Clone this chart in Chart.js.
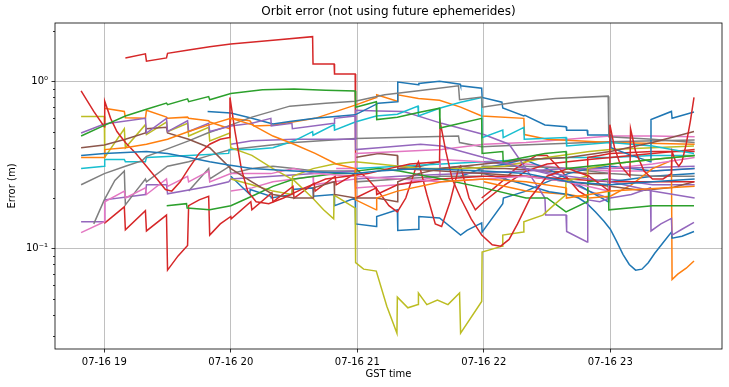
<!DOCTYPE html>
<html lang="en">
<head>
<meta charset="UTF-8">
<title>Orbit error</title>
<script src="https://cdn.jsdelivr.net/npm/chart.js@4"></script>
<style>
  body { margin: 0; background: #fff; }
  canvas { display: block; }
</style>
</head>
<body>
<canvas id="orbitChart" width="729" height="387"></canvas>
<script>
// time = minutes after 07-16 18:00 GST, error in metres
const redTop = [[70,1.38],[79.5,1.46],[80,1.32],[89.5,1.38],[90,1.47],[100,1.54],[110,1.61],[120,1.67],[140,1.76],[158.8,1.85],[159,1.27],[169,1.27],[169.2,1.105],[179,1.105],[179.2,0.30],[185,0.26],[190,0.22],[195,0.18],[199,0.165],[203,0.2],[208,0.31],[209,0.33],[213,0.21],[217,0.14],[220,0.135],[224,0.19],[228,0.3],[229,0.31],[233,0.2],[236,0.17],[240,0.19],[250,0.24],[260,0.29],[270,0.32],[280,0.33],[290,0.34],[300,0.35],[320,0.37],[340,0.39]];
const greenTop = [[49,0.47],[60,0.545],[70,0.62],[80,0.68],[89.5,0.74],[90,0.725],[99.5,0.785],[100,0.755],[109.5,0.81],[110,0.775],[120,0.845],[135,0.89],[150,0.9],[165,0.885],[179,0.875],[179.2,0.70],[189,0.755],[189.2,0.59],[199,0.61],[209,0.65],[219,0.69],[219.2,0.525],[229,0.56],[239,0.6],[239.2,0.37],[249,0.38],[249.2,0.33],[259,0.35],[269,0.37],[279,0.38],[279.2,0.3],[300,0.32],[320,0.34],[340,0.36]];
const greenLow = [[89.6,0.18],[99,0.185],[99.3,0.174],[110,0.17],[120,0.18],[130,0.205],[140,0.235],[150,0.26],[160,0.27],[170,0.28],[179,0.28],[179.2,0.29],[190,0.3],[200,0.29],[220,0.26],[240,0.23],[260,0.2],[270,0.2],[279,0.165],[289,0.19],[289.3,0.25],[299,0.26],[299.3,0.17],[310,0.175],[320,0.18],[339.7,0.18]];
const redSpike = [[49,0.875],[52,0.76],[55,0.66],[60,0.535],[60.2,0.76],[63,0.6],[66,0.5],[70,0.43],[75,0.37],[80,0.31],[85,0.26],[89,0.225],[92,0.22],[96,0.25],[100,0.3],[105,0.37],[110,0.42],[115,0.45],[119.4,0.46],[119.6,0.8],[122,0.5],[125,0.3],[128,0.22],[132,0.19],[138,0.185],[145,0.2],[155,0.23],[165,0.26],[175,0.27],[185,0.28],[195,0.3],[205,0.32],[219,0.33],[219.3,0.57],[222,0.38],[225,0.26],[229,0.2],[234,0.15],[239,0.12],[244,0.105],[248,0.103],[252,0.113],[256,0.14],[262,0.2],[270,0.27],[280,0.3],[290,0.27],[299.5,0.22],[299.8,0.55],[302,0.4],[305,0.31],[309.3,0.27],[309.6,0.52],[312,0.38],[316,0.29],[320,0.26],[325,0.26],[329,0.28],[329.3,0.38],[331,0.33],[332.5,0.31],[334,0.33],[336,0.42],[338,0.58],[339.7,0.8]];
const redLow = [[60,0.141],[69.5,0.177],[70,0.129],[79.5,0.168],[80,0.127],[89.5,0.158],[90,0.074],[95,0.09],[99.5,0.104],[100,0.18],[105,0.195],[109.5,0.205],[110,0.12],[115,0.14],[120,0.155],[120.2,0.15],[129.5,0.19],[130,0.17],[139.5,0.215],[140,0.19],[149.5,0.235],[150,0.2],[159.5,0.245],[160,0.22],[169.5,0.27],[170,0.24],[179,0.28],[179.2,0.2],[189,0.23],[189.2,0.21],[199,0.24],[209,0.25],[220,0.26],[240,0.27],[260,0.27],[280,0.26],[300,0.25],[320,0.25],[340,0.25]];
const red22 = [[239,0.2],[245,0.23],[250,0.26],[255,0.3],[260,0.33],[265,0.36],[270,0.36],[275,0.31],[280,0.26],[285,0.22],[289,0.205],[289.3,0.35],[295,0.36],[300,0.37],[320,0.38],[340,0.38]];
const grayTop = [[49,0.24],[60,0.28],[70,0.31],[78,0.335],[80,0.355],[89,0.39],[100,0.44],[109,0.49],[117,0.53],[130,0.61],[148,0.71],[165,0.74],[179,0.76],[193,0.83],[210,0.88],[228,0.94],[228.5,0.775],[239,0.805],[239.3,0.70],[255,0.75],[274,0.79],[299,0.815],[299.3,0.465],[320,0.45],[340,0.43]];
const grayMid = [[55,0.14],[60,0.195],[65,0.255],[69.5,0.29],[70,0.182],[75,0.22],[79.5,0.26],[80,0.25],[90,0.31],[100,0.33],[110,0.36],[120,0.39],[150,0.43],[179,0.455],[228,0.47],[228.5,0.43],[239,0.405],[258,0.415],[299,0.435],[340,0.445]];
const grayLow = [[100,0.22],[109.5,0.3],[110,0.26],[119.5,0.31],[120,0.28],[130,0.3],[140,0.31],[150,0.3],[160,0.29],[179,0.29],[179.2,0.25],[200,0.26],[220,0.27],[239,0.27],[239.2,0.31],[260,0.31],[280,0.3],[300,0.28],[320,0.27],[340,0.27]];
const blueTop = [[109,0.66],[120,0.645],[130,0.6],[140,0.555],[148,0.575],[160,0.6],[179,0.63],[190,0.74],[199,0.755],[199.2,0.99],[209,0.955],[209.2,0.97],[219,1.0],[228.8,0.96],[229,0.94],[239,0.91],[239.2,0.8],[248.6,0.75],[249,0.692],[259,0.62],[259.5,0.625],[269,0.548],[279,0.535],[279.3,0.51],[289,0.51],[289.3,0.477],[300,0.477],[300.3,0.40],[310,0.36],[319,0.33],[319.3,0.59],[329,0.66],[329.3,0.6],[339.7,0.655]];
const blueDip = [[240,0.28],[250,0.26],[260,0.24],[271,0.218],[280,0.21],[285,0.2],[289,0.185],[293,0.165],[297,0.145],[300,0.13],[303,0.11],[306,0.092],[309,0.08],[312,0.074],[315,0.075],[318,0.082],[321,0.093],[325,0.108],[329,0.125],[329.3,0.115],[334,0.118],[339.7,0.126]];
const blueLow = [[120,0.27],[129,0.21],[129.2,0.225],[139,0.205],[139.2,0.2],[149,0.21],[149.2,0.225],[159,0.23],[159.2,0.205],[169,0.21],[169.2,0.18],[179,0.2],[179.2,0.14],[189,0.135],[189.2,0.155],[199,0.17],[199.2,0.128],[209,0.13],[209.2,0.155],[219,0.152],[229,0.12],[232,0.128],[239,0.142],[239.2,0.125],[249,0.185],[249.3,0.2],[260,0.22],[270,0.25],[280,0.28],[290,0.3],[300,0.31],[310,0.3],[320,0.29],[340,0.3]];
const blueMid = [[49,0.36],[60,0.37],[80,0.38],[90,0.37],[100,0.35],[110,0.33],[119,0.315],[130,0.3],[150,0.29],[179,0.28],[190,0.29],[210,0.3],[240,0.29],[260,0.28],[280,0.25],[300,0.24],[320,0.25],[340,0.26]];
const blue22 = [[229,0.27],[239,0.3],[250,0.32],[259,0.34],[270,0.3],[280,0.26],[290,0.22],[299,0.19],[299.3,0.25],[310,0.26],[320,0.27],[340,0.28]];
const oliveDip = [[49,0.615],[60,0.615],[60.2,0.35],[69.5,0.52],[70,0.40],[79.5,0.55],[80,0.48],[89.5,0.57],[90,0.50],[99.5,0.56],[100,0.47],[109.5,0.53],[110,0.44],[119.5,0.49],[120,0.40],[130,0.36],[140,0.3],[150,0.255],[158.8,0.2],[164,0.17],[168.8,0.15],[169,0.208],[179,0.174],[179.2,0.082],[183,0.075],[189,0.073],[194,0.045],[198.8,0.031],[199,0.051],[204,0.044],[208.8,0.046],[209,0.054],[213,0.046],[218,0.049],[223,0.046],[228.5,0.054],[229,0.031],[239,0.048],[239.2,0.095],[248.8,0.103],[249,0.12],[258.8,0.125],[259,0.144],[268,0.158],[274,0.185],[278.8,0.208],[279,0.253],[289,0.27],[289.2,0.3],[300,0.32],[320,0.34],[340,0.36]];
const oliveMid = [[120,0.26],[130,0.24],[140,0.22],[149,0.21],[149.3,0.27],[159,0.3],[169,0.32],[179,0.33],[190,0.32],[210,0.3],[230,0.3],[250,0.31],[270,0.35],[290,0.38],[300,0.39],[320,0.4],[339.7,0.41]];
const orangeTop = [[60,0.69],[69.5,0.66],[70,0.605],[79.5,0.6],[80,0.67],[89.5,0.61],[90,0.6],[99.5,0.61],[100,0.6],[109.5,0.58],[110,0.57],[119.5,0.52],[120,0.6],[129,0.58],[131,0.54],[140,0.545],[160,0.6],[179,0.72],[189,0.8],[189.2,0.83],[199,0.76],[199.2,0.83],[209,0.79],[219,0.77],[229,0.7],[239,0.62],[259,0.6],[259.3,0.48],[270,0.45],[300,0.43],[340,0.42]];
const orangeMid = [[49,0.35],[60,0.35],[60.2,0.39],[70,0.4],[80,0.42],[90,0.45],[100,0.5],[110,0.55],[120,0.6],[130,0.55],[140,0.47],[150,0.42],[160,0.37],[170,0.32],[179,0.3],[179.2,0.195],[189,0.17],[189.2,0.2],[199,0.22],[220,0.25],[240,0.26],[260,0.25],[279,0.23],[279.2,0.2],[290,0.21],[300,0.22],[340,0.235]];
const orangeDip = [[240,0.25],[260,0.22],[280,0.21],[290,0.2],[300,0.205],[310,0.24],[320,0.3],[329,0.335],[329.3,0.065],[332,0.07],[336,0.076],[339.7,0.084]];
const purpleTop = [[49,0.49],[60,0.555],[79.5,0.6],[80,0.49],[89.5,0.6],[90,0.5],[99.5,0.58],[100,0.5],[109.5,0.56],[110,0.5],[120,0.54],[130,0.56],[139,0.6],[139.2,0.54],[149,0.56],[149.2,0.52],[169,0.56],[169.2,0.6],[179,0.62],[179.2,0.39],[190,0.4],[200,0.41],[210,0.42],[220,0.41],[240,0.35],[260,0.3],[280,0.27],[300,0.25],[320,0.22],[340,0.2]];
const purpleMid = [[120,0.42],[130,0.44],[150,0.45],[179,0.45],[179.2,0.67],[190,0.665],[202,0.66],[220,0.56],[240,0.48],[252,0.42],[260,0.3],[269,0.2],[269.3,0.158],[279,0.158],[279.3,0.126],[289,0.109],[289.3,0.195],[295,0.19],[300,0.2],[310,0.21],[319,0.23],[319.3,0.127],[324,0.14],[329,0.151],[329.3,0.12],[334,0.13],[339.7,0.143]];
const purpleLow = [[49,0.144],[60,0.144],[60.2,0.195],[79.5,0.21],[80,0.24],[89.5,0.24],[90,0.212],[110,0.235],[119,0.25],[120,0.26],[140,0.27],[160,0.28],[179,0.29],[179.2,0.26],[200,0.27],[230,0.28],[260,0.29],[280,0.3],[300,0.3],[340,0.31]];
const purple22 = [[240,0.33],[250,0.32],[260,0.3],[270,0.28],[280,0.25],[290,0.22],[299,0.2],[299.3,0.26],[310,0.25],[320,0.24],[340,0.24]];
const pinkLow = [[49,0.124],[60,0.144],[60.2,0.19],[69.5,0.22],[70,0.2],[79.5,0.23],[80,0.21],[89.5,0.26],[90,0.235],[99.5,0.27],[100,0.25],[109.5,0.29],[110,0.25],[120,0.28],[139,0.28],[150,0.3],[160,0.28],[179,0.27],[200,0.26],[220,0.25],[240,0.26],[260,0.27],[280,0.25],[299,0.22],[299.3,0.3],[320,0.32],[340,0.35]];
const pinkTop = [[170,0.3],[179,0.3],[179.2,0.37],[200,0.38],[220,0.39],[240,0.42],[260,0.43],[280,0.45],[300,0.47],[320,0.47],[340,0.465]];
const pinkMid = [[120,0.22],[130,0.23],[140,0.25],[150,0.26],[159,0.27],[159.2,0.24],[169,0.25],[179,0.26],[179.2,0.23],[199,0.24],[219,0.27],[219.2,0.34],[240,0.33],[260,0.32],[280,0.3],[300,0.29],[320,0.29],[340,0.3]];
const cyan = [[49,0.3],[60,0.31],[60.2,0.34],[69.5,0.34],[70,0.33],[79.5,0.33],[80,0.35],[100,0.36],[119,0.37],[119.3,0.39],[130,0.39],[140,0.4],[150,0.44],[158.8,0.5],[159,0.475],[169,0.55],[169.2,0.51],[179,0.57],[189,0.62],[199,0.635],[208.8,0.71],[209,0.62],[219,0.69],[229,0.75],[239,0.8],[239.2,0.46],[249,0.51],[249.2,0.46],[259,0.53],[259.2,0.45],[279,0.46],[279.3,0.41],[300,0.43],[320,0.41],[339.7,0.37]];
const cyanLow = [[179,0.3],[200,0.31],[220,0.32],[240,0.33],[260,0.34],[280,0.35],[300,0.35],[320,0.36],[340,0.36]];
const brownTop = [[49,0.4],[60,0.415],[70,0.45],[79.5,0.49],[80,0.52],[89.5,0.53],[90,0.49],[100,0.45],[110,0.4],[120,0.3],[130,0.25],[140,0.21],[150,0.2],[159,0.2],[159.2,0.23],[169,0.25],[169.2,0.21],[179,0.2],[189,0.2],[199,0.19],[199.2,0.25],[209,0.28],[220,0.3],[240,0.32],[260,0.34],[280,0.35],[300,0.38],[320,0.43],[339.7,0.5]];
const brownMid = [[179,0.35],[190,0.37],[199,0.36],[199.2,0.3],[210,0.31],[219,0.33],[219.2,0.3],[229,0.31],[239,0.3],[250,0.3],[270,0.29],[290,0.28],[300,0.28]];
const brownLow = [[200,0.3],[220,0.29],[240,0.28],[260,0.27],[280,0.25],[300,0.235],[315,0.222],[330,0.232],[339.7,0.25]];

const hourTicks = [60, 120, 180, 240, 300];
const decadeTicks = [0.1, 1];
const minorTicks = [0.03, 0.04, 0.05, 0.06, 0.07, 0.08, 0.09, 0.2, 0.3, 0.4, 0.5, 0.6, 0.7, 0.8, 0.9, 2];

const series = [
  [blueMid, '#1f77b4'], [orangeMid, '#ff7f0e'], [greenTop, '#2ca02c'], [redSpike, '#d62728'],
  [purpleTop, '#9467bd'], [brownTop, '#8c564b'], [pinkLow, '#e377c2'], [grayTop, '#7f7f7f'],
  [oliveDip, '#bcbd22'], [cyan, '#17becf'], [blueTop, '#1f77b4'], [orangeTop, '#ff7f0e'],
  [greenLow, '#2ca02c'], [redLow, '#d62728'], [purpleMid, '#9467bd'], [brownLow, '#8c564b'],
  [pinkTop, '#e377c2'], [grayMid, '#7f7f7f'], [oliveMid, '#bcbd22'], [blueDip, '#1f77b4'],
  [orangeDip, '#ff7f0e'], [redTop, '#d62728'], [purpleLow, '#9467bd'], [blueLow, '#1f77b4'],
  [red22, '#d62728'], [grayLow, '#7f7f7f'], [blue22, '#1f77b4'], [purple22, '#9467bd'],
  [pinkMid, '#e377c2'], [cyanLow, '#17becf'], [brownMid, '#8c564b']
];

const framePlugin = {
  id: 'frame',
  afterDraw(chart) {
    const { ctx, chartArea: a, scales: { y } } = chart;
    ctx.save();
    ctx.strokeStyle = '#000';
    ctx.lineWidth = 0.8;
    ctx.strokeRect(a.left, a.top, a.right - a.left, a.bottom - a.top);
    minorTicks.forEach(v => {
      const py = Math.round(y.getPixelForValue(v)) + 0.5;
      ctx.beginPath();
      ctx.moveTo(a.left, py);
      ctx.lineTo(a.left - 2, py);
      ctx.stroke();
    });
    ctx.fillStyle = '#000';
    ctx.textAlign = 'center';
    ctx.textBaseline = 'middle';
    ctx.font = '12px "DejaVu Sans"';
    ctx.fillText('Orbit error (not using future ephemerides)', (a.left + a.right) / 2, 12);
    ctx.font = '10px "DejaVu Sans"';
    ctx.fillText('GST time', (a.left + a.right) / 2, 374);
    ctx.translate(12, (a.top + a.bottom) / 2);
    ctx.rotate(-Math.PI / 2);
    ctx.fillText('Error (m)', 0, 0);
    ctx.restore();
  }
};

const tickFont = { family: 'DejaVu Sans', size: 10 };
const gridStyle = { color: '#b0b0b0', lineWidth: 0.8, tickColor: '#000', tickLength: 3.5, tickWidth: 0.8 };

new Chart(document.getElementById('orbitChart'), {
  type: 'line',
  data: {
    datasets: series.map(([pts, color]) => ({
      data: pts.map(([x, y]) => ({ x, y })),
      borderColor: color,
      backgroundColor: color,
      borderWidth: 1.5,
      pointRadius: 0,
      tension: 0,
      fill: false
    }))
  },
  options: {
    responsive: false,
    animation: false,
    parsing: false,
    layout: { padding: { left: 0, right: 7, top: 23, bottom: 0 } },
    plugins: { legend: { display: false }, tooltip: { enabled: false } },
    scales: {
      x: {
        type: 'linear',
        min: 36.62,
        max: 352.98,
        afterBuildTicks: s => { s.ticks = hourTicks.map(v => ({ value: v })); },
        afterFit: s => { s.height = 38; },
        grid: gridStyle,
        border: { display: false },
        ticks: {
          color: '#000', font: tickFont, padding: 3.5, maxRotation: 0, autoSkip: false,
          callback: v => '07-16 ' + (18 + v / 60)
        }
      },
      y: {
        type: 'logarithmic',
        min: 0.02494,
        max: 2.234,
        afterBuildTicks: s => { s.ticks = decadeTicks.map(v => ({ value: v, major: true })); },
        afterFit: s => { s.width = 55; },
        grid: gridStyle,
        border: { display: false },
        ticks: {
          color: '#000', font: tickFont, padding: 3.5, autoSkip: false,
          callback: v => (v === 1 ? '10\u2070' : '10\u207B\u00B9')
        }
      }
    }
  },
  plugins: [framePlugin]
});
</script>
</body>
</html>
